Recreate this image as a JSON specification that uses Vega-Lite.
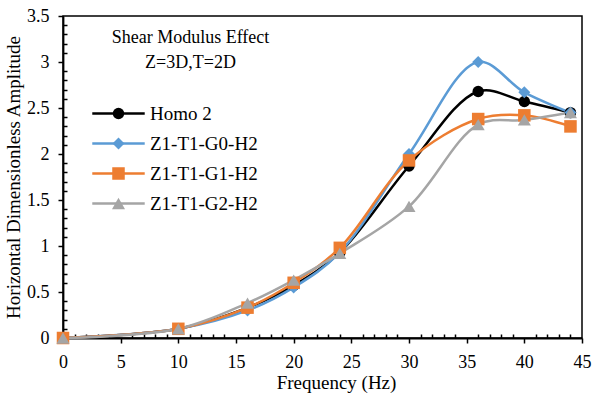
{
  "$schema": "https://vega.github.io/schema/vega-lite/v6.json",
  "width": 519,
  "height": 322,
  "autosize": {"type": "none"},
  "padding": {"left": 63, "top": 16, "right": 10, "bottom": 55},
  "background": "white",
  "config": {
    "font": "Liberation Serif",
    "view": {"stroke": "black", "strokeWidth": 1.5},
    "legend": {"labelFont": "Liberation Serif", "titleFont": "Liberation Serif"},
    "axis": {"grid": false, "domainColor": "black", "domainWidth": 1.8, "tickColor": "black", "tickWidth": 1.5, "labelColor": "black", "labelFont": "Liberation Serif", "labelFontSize": 18, "titleFont": "Liberation Serif", "titleFontWeight": "normal", "titleColor": "black", "labelOverlap": false, "labelFlush": false, "labelBound": false}
  },
  "title": {
    "text": "Shear Modulus Effect",
    "subtitle": "Z=3D,T=2D",
    "anchor": "start",
    "align": "center",
    "dx": 186,
    "offset": -65,
    "font": "Liberation Serif",
    "fontSize": 18,
    "fontWeight": "normal",
    "color": "black",
    "subtitleFont": "Liberation Serif",
    "subtitleFontSize": 18,
    "subtitleColor": "black",
    "subtitlePadding": 7
  },
  "data": {
    "values": [
      {"series": "Homo 2", "freq": 0, "amp": 0},
      {"series": "Homo 2", "freq": 10, "amp": 0.1},
      {"series": "Homo 2", "freq": 16, "amp": 0.33},
      {"series": "Homo 2", "freq": 20, "amp": 0.57},
      {"series": "Homo 2", "freq": 24, "amp": 0.93},
      {"series": "Homo 2", "freq": 30, "amp": 1.87},
      {"series": "Homo 2", "freq": 36, "amp": 2.68},
      {"series": "Homo 2", "freq": 40, "amp": 2.57},
      {"series": "Homo 2", "freq": 44, "amp": 2.45},
      {"series": "Z1-T1-G0-H2", "freq": 0, "amp": 0},
      {"series": "Z1-T1-G0-H2", "freq": 10, "amp": 0.1},
      {"series": "Z1-T1-G0-H2", "freq": 16, "amp": 0.3},
      {"series": "Z1-T1-G0-H2", "freq": 20, "amp": 0.55},
      {"series": "Z1-T1-G0-H2", "freq": 24, "amp": 0.93},
      {"series": "Z1-T1-G0-H2", "freq": 30, "amp": 2.0},
      {"series": "Z1-T1-G0-H2", "freq": 36, "amp": 3.0},
      {"series": "Z1-T1-G0-H2", "freq": 40, "amp": 2.67},
      {"series": "Z1-T1-G0-H2", "freq": 44, "amp": 2.45},
      {"series": "Z1-T1-G1-H2", "freq": 0, "amp": 0},
      {"series": "Z1-T1-G1-H2", "freq": 10, "amp": 0.1},
      {"series": "Z1-T1-G1-H2", "freq": 16, "amp": 0.33},
      {"series": "Z1-T1-G1-H2", "freq": 20, "amp": 0.6},
      {"series": "Z1-T1-G1-H2", "freq": 24, "amp": 0.98},
      {"series": "Z1-T1-G1-H2", "freq": 30, "amp": 1.93},
      {"series": "Z1-T1-G1-H2", "freq": 36, "amp": 2.38},
      {"series": "Z1-T1-G1-H2", "freq": 40, "amp": 2.42},
      {"series": "Z1-T1-G1-H2", "freq": 44, "amp": 2.3},
      {"series": "Z1-T1-G2-H2", "freq": 0, "amp": 0},
      {"series": "Z1-T1-G2-H2", "freq": 10, "amp": 0.1},
      {"series": "Z1-T1-G2-H2", "freq": 16, "amp": 0.38},
      {"series": "Z1-T1-G2-H2", "freq": 20, "amp": 0.63},
      {"series": "Z1-T1-G2-H2", "freq": 24, "amp": 0.92},
      {"series": "Z1-T1-G2-H2", "freq": 30, "amp": 1.43},
      {"series": "Z1-T1-G2-H2", "freq": 36, "amp": 2.32},
      {"series": "Z1-T1-G2-H2", "freq": 40, "amp": 2.37},
      {"series": "Z1-T1-G2-H2", "freq": 44, "amp": 2.45}
    ]
  },
  "encoding": {
    "x": {
      "field": "freq", "type": "quantitative",
      "scale": {"domain": [0, 45], "nice": false, "zero": false},
      "title": "Frequency (Hz)",
      "axis": {
        "values": [0,1,2,3,4,5,6,7,8,9,10,11,12,13,14,15,16,17,18,19,20,21,22,23,24,25,26,27,28,29,30,31,32,33,34,35,36,37,38,39,40,41,42,43,44,45],
        "format": "~g",
        "labelExpr": "datum.value % 5 === 0 ? datum.label : ''",
        "tickSize": {"condition": {"test": "datum.value % 5 === 0", "value": 5}, "value": -4},
        "labelFont": "Liberation Serif",
        "titleFont": "Liberation Serif",
        "labelPadding": 10,
        "titleFontSize": 19,
        "titlePadding": 2,
        "titleX": 273
      }
    },
    "y": {
      "field": "amp", "type": "quantitative",
      "scale": {"domain": [0, 3.5], "nice": false},
      "title": "Horizontal Dimensionless Amplitude",
      "axis": {
        "values": [0,0.1,0.2,0.3,0.4,0.5,0.6,0.7,0.8,0.9,1,1.1,1.2,1.3,1.4,1.5,1.6,1.7,1.8,1.9,2,2.1,2.2,2.3,2.4,2.5,2.6,2.7,2.8,2.9,3,3.1,3.2,3.3,3.4,3.5],
        "format": "~g",
        "labelExpr": "abs(datum.value * 2 - round(datum.value * 2)) < 0.001 ? datum.label : ''",
        "tickSize": {"condition": {"test": "abs(datum.value * 2 - round(datum.value * 2)) < 0.001", "value": 5}, "value": -4},
        "labelFont": "Liberation Serif",
        "titleFont": "Liberation Serif",
        "labelPadding": 9,
        "titleFontSize": 19,
        "titlePadding": 3
      }
    },
    "color": {
      "field": "series", "type": "nominal",
      "scale": {"domain": ["Homo 2", "Z1-T1-G0-H2", "Z1-T1-G1-H2", "Z1-T1-G2-H2"], "range": ["#000000", "#5B9BD5", "#ED7D31", "#A5A5A5"]}
    }
  },
  "layer": [
    {
      "mark": {"type": "line", "interpolate": "catmull-rom", "strokeWidth": 2.5},
      "encoding": {
        "color": {
          "field": "series", "type": "nominal",
          "legend": {"orient": "none", "legendX": 46, "legendY": 88, "title": null, "padding": 0, "symbolType": "M-4.6,0H4.6", "symbolSize": 130, "symbolStrokeWidth": 2.5, "labelFont": "Liberation Serif", "labelFontSize": 19, "labelColor": "black", "rowPadding": 10, "labelOffset": 22}
        }
      }
    },
    {
      "mark": {"type": "point", "filled": true, "opacity": 1},
      "encoding": {
        "size": {
          "field": "series", "type": "nominal",
          "scale": {"domain": ["Homo 2", "Z1-T1-G0-H2", "Z1-T1-G1-H2", "Z1-T1-G2-H2"], "range": [130, 170, 160, 190]},
          "legend": null
        },
        "shape": {
          "field": "series", "type": "nominal",
          "scale": {"domain": ["Homo 2", "Z1-T1-G0-H2", "Z1-T1-G1-H2", "Z1-T1-G2-H2"], "range": ["circle", "diamond", "square", "triangle-up"]},
          "legend": {"orient": "none", "legendX": 46, "legendY": 88, "title": null, "padding": 0, "symbolSize": 130, "labelFont": "Liberation Serif", "labelFontSize": 19, "labelExpr": "''", "rowPadding": 10}
        },
        "color": {
          "field": "series", "type": "nominal",
          "legend": {"orient": "none", "legendX": 46, "legendY": 88, "title": null, "padding": 0, "symbolSize": 130, "labelFont": "Liberation Serif", "labelFontSize": 19, "labelExpr": "''", "rowPadding": 10}
        }
      }
    }
  ],
  "resolve": {"legend": {"color": "independent", "shape": "independent", "size": "independent"}}
}
